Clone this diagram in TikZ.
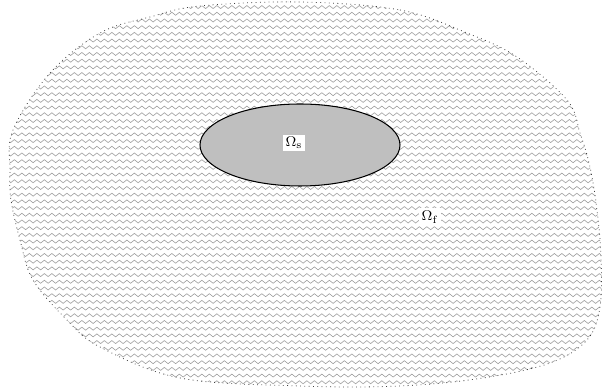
\documentclass[tikz,border=0pt]{standalone}
\usepackage{amsmath,amssymb}
\usepackage{tikz}
\usetikzlibrary{shapes.geometric,positioning,decorations.pathmorphing}

\begin{document}
\begin{tikzpicture}[
  wave/.style={gray!75, line width=0.35pt, solid, decorate,
    decoration={zigzag, segment length=0.15cm, amplitude=0.03cm}},
  border/.style={black!75, line width=0.45pt, dotted},
  solidbody/.style={ellipse, draw, line width=0.6pt, fill=black!25,
    minimum width=4cm, minimum height=1.64cm, inner sep=0pt},
  tag/.style={fill=white, inner sep=1.5pt, font=\footnotesize}]
\useasboundingbox (0,0) rectangle (12.14,7.8);
\draw[border, path picture={
  \foreach \y in {0.02,0.154,...,7.9} {
    \draw[wave] (-0.2,\y) -- (12.4,\y);
  }
}] plot[smooth cycle, tension=0.6] coordinates {
  (6.00,7.76) (8.00,7.60) (9.34,7.14) (10.34,6.66) (11.34,5.80)
  (11.60,5.14) (11.80,4.46) (11.94,3.60) (12.02,2.66) (12.00,1.66)
  (11.74,1.00) (11.00,0.54) (9.66,0.24) (8.00,0.08) (6.00,0.08)
  (3.60,0.24) (2.00,0.86) (1.34,1.40) (0.66,2.20) (0.40,3.00)
  (0.22,3.80) (0.20,4.40) (0.26,5.20) (1.00,6.34) (2.00,7.14)
  (3.00,7.46) (4.00,7.68)};
\node[solidbody] (body) at (6.0,4.9) {};
\node[tag] (omegas) at (5.88,4.94) {$\Omega_{\mathrm{s}}$};
\node[tag] (omegaf) at (8.6,3.46) {$\Omega_{\mathrm{f}}$};
\end{tikzpicture}
\end{document}
